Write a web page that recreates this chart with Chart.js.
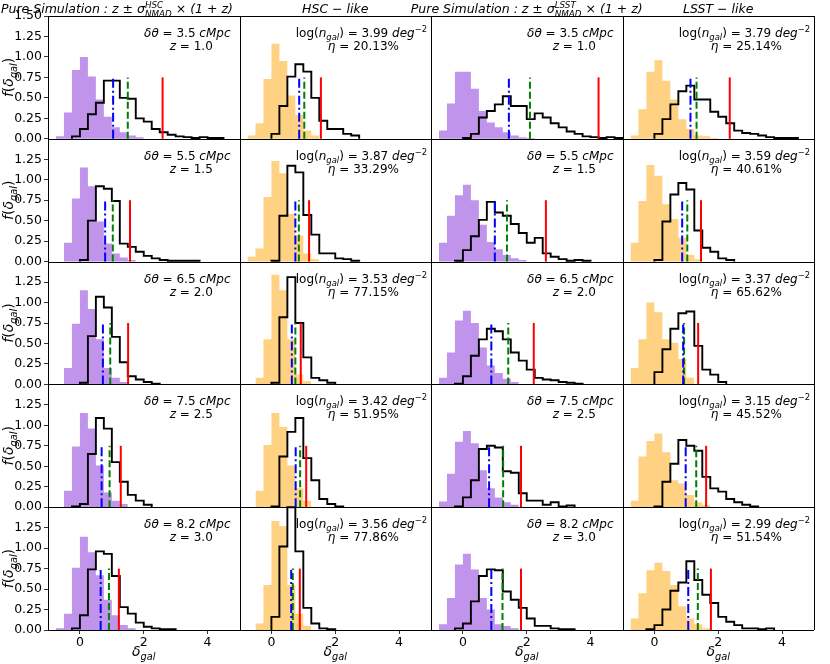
<!DOCTYPE html>
<html>
<head>
<meta charset="utf-8">
<script src="https://cdn.jsdelivr.net/npm/chart.js@4.4.0/dist/chart.umd.min.js"></script>
<style>
  html, body { margin: 0; padding: 0; background: #fff; }
  #wrap { position: relative; width: 830px; height: 664px; }
</style>
</head>
<body>
<div id="wrap"><canvas id="grid" width="830" height="664"></canvas></div>
<script>
// ---- data ----
const binWidth = 0.25;
const deltaTheta = ['3.5', '5.5', '6.5', '7.5', '8.2'];
const redshift = ['1.0', '1.5', '2.0', '2.5', '3.0'];
const hscLogN = ['3.99', '3.87', '3.53', '3.42', '3.56'];
const hscEta = ['20.13', '33.29', '77.15', '51.95', '77.86'];
const lsstLogN = ['3.79', '3.59', '3.37', '3.15', '2.99'];
const lsstEta = ['25.14', '40.61', '65.62', '45.52', '51.54'];
const xTickValues = [0, 2, 4];
const yTickValues = [0, 0.25, 0.5, 0.75, 1.0, 1.25, 1.5];

// filled histograms (purple = pure simulation, orange = survey-like): first bin edge + densities
const fillStart = [
  [-0.75, -0.75, -0.75, -0.75],
  [-0.5, -0.75, -0.75, -0.75],
  [-0.5, -0.5, -0.75, -0.75],
  [-0.5, -0.5, -0.75, -0.75],
  [-0.75, -0.5, -0.75, -0.75]
];
const fillHeights = [
  [[0.03,0.32,0.84,1.00,0.76,0.48,0.27,0.14,0.08,0.04,0.02],
   [0.04,0.19,0.73,1.16,0.95,0.53,0.29,0.10,0.04],
   [0.10,0.43,0.82,0.82,0.61,0.34,0.20,0.14,0.08,0.04,0.02,0.01],
   [0.04,0.36,0.82,0.96,0.71,0.48,0.24,0.12,0.04,0.03,0.01]],
  [[0.23,0.77,1.15,0.92,0.49,0.22,0.10,0.05,0.02],
   [0.06,0.16,0.79,1.23,1.08,0.58,0.32,0.10,0.03],
   [0.23,0.56,0.81,0.94,0.75,0.45,0.24,0.15,0.08,0.04,0.02],
   [0.23,0.74,1.18,1.05,0.70,0.52,0.29,0.08,0.03]],
  [[0.20,0.74,1.15,0.92,0.55,0.20,0.08,0.03],
   [0.08,0.55,1.34,1.15,0.55,0.12,0.04],
   [0.08,0.39,0.78,0.90,0.75,0.45,0.23,0.14,0.07,0.03],
   [0.20,0.55,1.00,0.88,0.55,0.51,0.31,0.08]],
  [[0.20,0.74,1.15,0.96,0.51,0.18,0.08,0.04],
   [0.20,0.76,1.15,0.98,0.51,0.23,0.08],
   [0.07,0.41,0.80,0.93,0.78,0.45,0.23,0.12,0.06,0.03],
   [0.08,0.62,0.81,0.90,0.67,0.33,0.29,0.15,0.06,0.03]],
  [[0.02,0.20,0.76,1.14,0.95,0.67,0.37,0.18,0.06,0.02],
   [0.08,0.55,1.33,1.27,0.55,0.20,0.05],
   [0.07,0.39,0.80,0.93,0.74,0.39,0.25,0.07,0.05,0.02],
   [0.14,0.45,0.73,0.82,0.72,0.55,0.29,0.14,0.07,0.02]]
];

// black step histograms
const stepStart = [
  [-0.25, 0.0, 0.0, 0.0],
  [0.0, 0.0, -0.25, 0.0],
  [0.0, 0.0, -0.25, 0.0],
  [-0.25, 0.0, -0.25, 0.0],
  [-0.25, 0.0, -0.25, -0.25]
];
const stepHeights = [
  [[0.03,0.12,0.30,0.44,0.71,0.71,0.50,0.49,0.25,0.21,0.12,0.08,0.05,0.03,0.02,0.01,0.02,0.01,0.01],
   [0.06,0.40,0.76,0.91,0.82,0.50,0.22,0.12,0.12,0.06,0.04],
   [0.01,0.06,0.26,0.34,0.42,0.52,0.40,0.40,0.24,0.31,0.26,0.19,0.14,0.09,0.06,0.03,0.02,0.01,0.02,0.01],
   [0.06,0.24,0.42,0.58,0.65,0.48,0.48,0.33,0.27,0.19,0.10,0.07,0.06,0.04,0.02,0.01,0.01,0.01]],
  [[0.02,0.50,0.92,0.89,0.74,0.22,0.18,0.12,0.07,0.04,0.02,0.01,0.01,0.01,0.01],
   [0.01,0.56,1.17,1.09,0.57,0.33,0.10,0.10,0.04,0.03,0.01],
   [0.01,0.14,0.31,0.51,0.73,0.60,0.56,0.46,0.35,0.23,0.29,0.10,0.06,0.03,0.01,0.02,0.01],
   [0.02,0.49,0.82,0.96,0.88,0.38,0.17,0.12,0.04,0.02]],
  [[0.02,0.59,1.07,0.94,0.58,0.27,0.10,0.06,0.03,0.01],
   [0.02,0.82,1.31,0.75,0.33,0.08,0.05,0.02],
   [0.01,0.10,0.35,0.55,0.68,0.65,0.55,0.39,0.29,0.18,0.08,0.06,0.05,0.03,0.02,0.01],
   [0.15,0.43,0.68,0.87,0.89,0.47,0.18,0.12,0.03]],
  [[0.01,0.04,0.65,1.09,0.96,0.55,0.31,0.15,0.08,0.03],
   [0.01,0.62,0.92,1.09,0.60,0.33,0.10,0.04,0.01],
   [0.01,0.12,0.33,0.71,0.75,0.73,0.44,0.42,0.17,0.08,0.08,0.03,0.06,0.01,0.02],
   [0.01,0.31,0.53,0.82,0.75,0.69,0.37,0.23,0.19,0.10,0.06,0.03,0.01]],
  [[0.02,0.18,0.74,0.96,0.93,0.66,0.28,0.20,0.09,0.04,0.02,0.01,0.01],
   [0.16,1.02,1.50,0.96,0.27,0.08,0.02,0.01],
   [0.02,0.08,0.35,0.66,0.74,0.73,0.47,0.37,0.27,0.14,0.05,0.05,0.02,0.01,0.01],
   [0.01,0.06,0.25,0.48,0.58,0.84,0.61,0.43,0.33,0.16,0.10,0.06,0.02,0.02,0.01,0.02]]
];

// vertical markers (blue dash-dot, green dashed, red solid), all 0.75 tall
const markerHeight = 0.75;
const blueLine = [
  [1.04, 0.87, 1.44, 1.13],
  [0.79, 0.75, 1.00, 0.87],
  [0.72, 0.64, 0.89, 0.90],
  [0.68, 0.76, 0.82, 0.98],
  [0.65, 0.62, 0.89, 1.06]
];
const greenLine = [
  [1.50, 1.03, 2.10, 1.32],
  [1.03, 0.86, 1.38, 1.03],
  [0.95, 0.75, 1.42, 0.93],
  [0.93, 0.90, 1.26, 1.31],
  [0.91, 0.67, 1.24, 1.36]
];
const redLine = [
  [2.59, 1.55, 4.25, 2.36],
  [1.57, 1.18, 2.60, 1.46],
  [1.51, 0.92, 2.22, 1.37],
  [1.28, 1.09, 1.82, 1.62],
  [1.22, 0.89, 1.82, 1.77]
];

// ---- panel grid mapped onto one pair of axes ----
const nRows = 5, nCols = 4;
const xMin = -1, xSpan = 6, ySpan = 1.5;
const FONT = '"DejaVu Sans"';
const purple = '#bf94ea';
const orange = '#ffd283';

function gx(c, x) { return c * xSpan + (x - xMin); }
function gy(r, y) { return (nRows - 1 - r) * ySpan + Math.min(y, ySpan); }

function histPoints(start, heights, r, c) {
  const pts = [{x: gx(c, start), y: gy(r, 0)}];
  heights.forEach((h, i) => pts.push({x: gx(c, start + i * binWidth), y: gy(r, h)}));
  pts.push({x: gx(c, start + heights.length * binWidth), y: gy(r, 0)});
  return pts;
}

const datasets = [];
for (let r = 0; r < nRows; r++) {
  for (let c = 0; c < nCols; c++) {
    const markers = [
      [blueLine, '#0000ff', [9, 3, 2, 3]],
      [greenLine, '#008000', [7, 3]],
      [redLine, '#ff0000', []]
    ];
    markers.forEach(([arr, col, dash]) => {
      const x = gx(c, arr[r][c]);
      datasets.push({
        data: [{x: x, y: gy(r, 0)}, {x: x, y: gy(r, markerHeight)}],
        borderColor: col, borderWidth: 2, borderDash: dash,
        pointRadius: 0, fill: false, order: 1
      });
    });
    datasets.push({
      data: histPoints(stepStart[r][c], stepHeights[r][c], r, c),
      borderColor: '#000', borderWidth: 1.9, stepped: 'before',
      pointRadius: 0, fill: false, order: 2
    });
    datasets.push({
      data: histPoints(fillStart[r][c], fillHeights[r][c], r, c),
      borderColor: 'rgba(0,0,0,0)', borderWidth: 0.01, stepped: 'before',
      backgroundColor: c % 2 === 0 ? purple : orange,
      fill: {value: gy(r, 0)}, pointRadius: 0, order: 3
    });
  }
}

// ---- mathtext-like rich text ----
function fnt(size, italic) { return (italic ? 'italic ' : '') + size + 'px ' + FONT; }
function segWidth(ctx, s, size) {
  if (s.supsub) {
    ctx.font = fnt(size * 0.7, s.i);
    return Math.max(ctx.measureText(s.supsub[0]).width, ctx.measureText(s.supsub[1]).width);
  }
  const sz = (s.sub || s.sup) ? size * 0.7 : size;
  ctx.font = fnt(sz, s.i);
  return ctx.measureText(s.t).width;
}
function richWidth(ctx, segs, size) {
  return segs.reduce((w, s) => w + segWidth(ctx, s, size), 0);
}
function drawRich(ctx, segs, x, y, size, align) {
  const w = richWidth(ctx, segs, size);
  let cx = align === 'center' ? x - w / 2 : align === 'right' ? x - w : x;
  ctx.textAlign = 'left';
  ctx.textBaseline = 'alphabetic';
  segs.forEach(s => {
    const sw = segWidth(ctx, s, size);
    if (s.supsub) {
      ctx.font = fnt(size * 0.7, s.i);
      ctx.fillText(s.supsub[0], cx, y - size * 0.42);
      ctx.fillText(s.supsub[1], cx, y + size * 0.28);
    } else if (s.sub) {
      ctx.font = fnt(size * 0.7, s.i);
      ctx.fillText(s.t, cx, y + size * 0.25);
    } else if (s.sup) {
      ctx.font = fnt(size * 0.7, s.i);
      ctx.fillText(s.t, cx, y - size * 0.42);
    } else {
      ctx.font = fnt(size, s.i);
      ctx.fillText(s.t, cx, y);
    }
    cx += sw;
  });
  return w;
}

function annotation(r, c) {
  if (c % 2 === 0) {
    return [
      [{t: 'δθ', i: true}, {t: ' = ' + deltaTheta[r] + ' '}, {t: 'cMpc', i: true}],
      [{t: 'z', i: true}, {t: ' = ' + redshift[r]}]
    ];
  }
  const logN = c === 1 ? hscLogN[r] : lsstLogN[r];
  const eta = c === 1 ? hscEta[r] : lsstEta[r];
  return [
    [{t: 'log('}, {t: 'n', i: true}, {t: 'gal', i: true, sub: true}, {t: ') = ' + logN + ' '},
     {t: 'deg', i: true}, {t: '\u22122', sup: true}],
    [{t: 'η', i: true}, {t: ' = ' + eta + '%'}]
  ];
}

const simTitle = survey => [
  {t: 'Pure Simulation : z \u00b1 σ', i: true}, {supsub: [survey, 'NMAD'], i: true},
  {t: ' \u00d7 (1 + z)', i: true}
];
const colTitles = [simTitle('HSC'), [{t: 'HSC \u2212 like', i: true}],
                   simTitle('LSST'), [{t: 'LSST \u2212 like', i: true}]];
const yTitle = [{t: 'f', i: true}, {t: '('}, {t: 'δ', i: true}, {t: 'gal', i: true, sub: true}, {t: ')'}];
const xTitle = [{t: 'δ', i: true}, {t: 'gal', i: true, sub: true}];

const panelDecor = {
  id: 'panelDecor',
  afterDraw(chart) {
    const ctx = chart.ctx;
    const xs = chart.scales.x, ys = chart.scales.y;
    ctx.save();
    // spines
    ctx.strokeStyle = '#000';
    ctx.lineWidth = 1;
    ctx.beginPath();
    for (let c = 0; c <= nCols; c++) {
      const x = Math.round(xs.getPixelForValue(c * xSpan)) + 0.5;
      ctx.moveTo(x, ys.top); ctx.lineTo(x, ys.bottom);
    }
    for (let r = 0; r <= nRows; r++) {
      const y = Math.round(ys.getPixelForValue(r * ySpan)) + 0.5;
      ctx.moveTo(xs.left, y); ctx.lineTo(xs.right, y);
    }
    ctx.stroke();
    ctx.fillStyle = '#000';
    // panel annotations
    const as = 12;
    for (let r = 0; r < nRows; r++) {
      for (let c = 0; c < nCols; c++) {
        const top = ys.getPixelForValue(gy(r, ySpan));
        const right = xs.getPixelForValue((c + 1) * xSpan);
        const lines = annotation(r, c);
        const gap = c % 2 === 0 ? 9 : 4;
        const w1 = richWidth(ctx, lines[0], as);
        const mid = right - gap - w1 / 2;
        drawRich(ctx, lines[0], mid, top + 21, as, 'center');
        drawRich(ctx, lines[1], mid + (c % 2 === 0 ? 4 : 2), top + 34, as, 'center');
      }
    }
    // column titles
    drawRich(ctx, colTitles[0], 1, 13, 12.5, 'left');
    for (let c = 1; c < nCols; c++) {
      const cx = xs.getPixelForValue(c * xSpan + xSpan / 2);
      drawRich(ctx, colTitles[c], cx, 13, 12.5, 'center');
    }
    // axis titles
    for (let c = 0; c < nCols; c++) {
      const cx = xs.getPixelForValue(c * xSpan + xSpan / 2);
      drawRich(ctx, xTitle, cx, 656, 14, 'center');
    }
    for (let r = 0; r < nRows; r++) {
      const cy = ys.getPixelForValue(gy(r, ySpan / 2));
      ctx.save();
      ctx.translate(13, cy);
      ctx.rotate(-Math.PI / 2);
      drawRich(ctx, yTitle, 0, 0, 14, 'center');
      ctx.restore();
    }
    ctx.restore();
  }
};

new Chart(document.getElementById('grid'), {
  type: 'line',
  data: {datasets: datasets},
  options: {
    responsive: false,
    animation: false,
    events: [],
    layout: {padding: {top: 16, right: 16, left: 0, bottom: 0}},
    plugins: {legend: {display: false}, tooltip: {enabled: false}},
    scales: {
      x: {
        type: 'linear', min: 0, max: nCols * xSpan,
        afterFit(s) { s.height = 34; },
        afterBuildTicks(s) {
          const t = [];
          for (let c = 0; c < nCols; c++) xTickValues.forEach(v => t.push({value: gx(c, v)}));
          s.ticks = t;
        },
        ticks: {
          autoSkip: false, maxRotation: 0, padding: 1, color: '#000',
          font: {family: FONT, size: 12.5},
          callback: v => String(Math.round(v % xSpan) + xMin)
        },
        grid: {drawOnChartArea: false, tickLength: 4, color: '#000', lineWidth: 0.8},
        border: {display: false}
      },
      y: {
        type: 'linear', min: 0, max: nRows * ySpan,
        afterFit(s) { s.width = 48; },
        afterBuildTicks(s) {
          const t = [];
          for (let r = nRows - 1; r >= 0; r--) {
            yTickValues.forEach(v => {
              if (v < ySpan || r === 0) t.push({value: gy(r, v)});
            });
          }
          s.ticks = t;
        },
        ticks: {
          autoSkip: false, padding: 2, color: '#000',
          font: {family: FONT, size: 12.5},
          callback: v => {
            const k = Math.round(v / binWidth);
            if (k === nRows * 6) return ySpan.toFixed(2);
            return ((k % 6) * binWidth).toFixed(2);
          }
        },
        grid: {drawOnChartArea: false, tickLength: 4, color: '#000', lineWidth: 0.8},
        border: {display: false}
      }
    }
  },
  plugins: [panelDecor]
});
</script>
</body>
</html>
